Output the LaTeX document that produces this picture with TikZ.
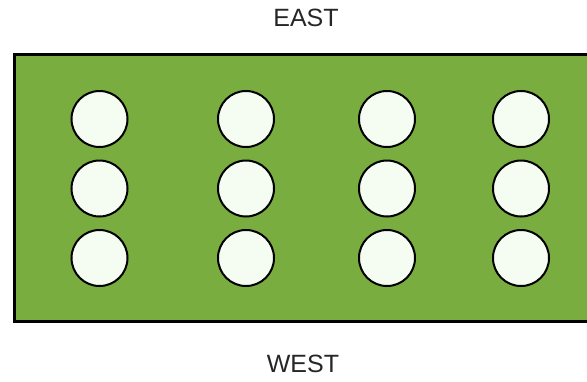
\documentclass[tikz,border=0pt]{standalone}
\usepackage{fontspec}
\setmainfont{Liberation Sans}
\definecolor{field}{HTML}{7AAD3F}
\definecolor{seat}{HTML}{F5FDF3}
\begin{document}
\begin{tikzpicture}[x=1pt,y=-1pt,
  seatnode/.style={circle,draw=black,line width=2pt,fill=seat,minimum size=56pt,inner sep=0pt},
  label/.style={font=\fontsize{25}{28}\selectfont,text=black!85}]
\useasboundingbox (0,0) rectangle (587,381);
\node[draw=black,line width=2.5pt,fill=field,minimum width=590pt,minimum height=267pt,anchor=north west,inner sep=0pt] (field) at (13,53) {};
\foreach \c/\x in {1/99.5,2/246,3/387,4/521}{
  \foreach \r/\y in {1/119,2/188.5,3/258}{
    \node[seatnode] (s\c\r) at (\x,\y) {};
  }
}
\node[label] (east) at (306,18) {EAST};
\node[label] (west) at (303,364) {WEST};
\end{tikzpicture}
\end{document}
